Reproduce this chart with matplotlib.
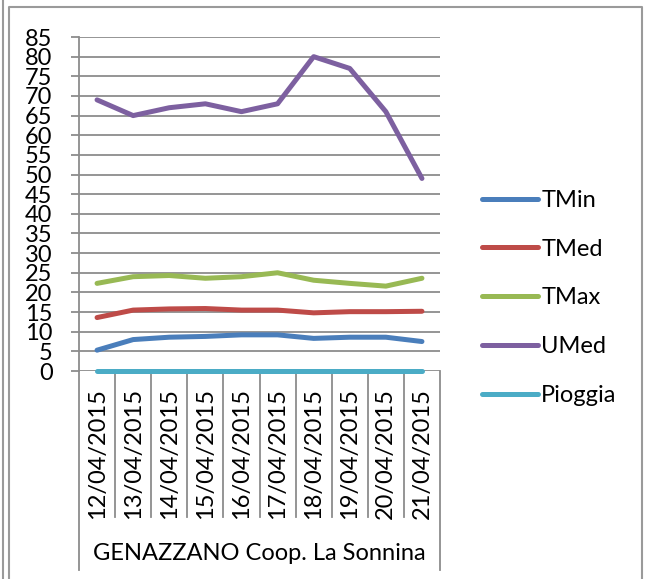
import matplotlib.pyplot as plt
from matplotlib.lines import Line2D
from matplotlib.transforms import blended_transform_factory

days = ['12/04/2015', '13/04/2015', '14/04/2015', '15/04/2015', '16/04/2015',
        '17/04/2015', '18/04/2015', '19/04/2015', '20/04/2015', '21/04/2015']
tmin = [5.3, 8.0, 8.6, 8.8, 9.2, 9.2, 8.3, 8.6, 8.6, 7.5]
tmed = [13.6, 15.5, 15.8, 15.9, 15.5, 15.5, 14.8, 15.1, 15.1, 15.2]
tmax = [22.3, 24.0, 24.3, 23.6, 24.0, 25.0, 23.1, 22.3, 21.6, 23.6]
umed = [69, 65, 67, 68, 66, 68, 80, 77, 66, 49]
pioggia = [0, 0, 0, 0, 0, 0, 0, 0, 0, 0]
group_label = 'GENAZZANO Coop. La Sonnina'

series = [('TMin', tmin, '#4A7EBB'), ('TMed', tmed, '#BE4B48'),
          ('TMax', tmax, '#98B954'), ('UMed', umed, '#7D60A0'),
          ('Pioggia', pioggia, '#4BACC6')]

plt.rcParams['font.family'] = ['Lato', 'DejaVu Sans']
W, H = 646, 579
fig = plt.figure(figsize=(W / 100, H / 100), dpi=100)
ax = fig.add_axes([79 / W, 1 - 371 / H, 361 / W, 334 / H])

grid_c = '#8c8c8c'
x = list(range(len(days)))
for name, vals, c in series:
    ax.plot(x, vals, color=c, lw=3.6, solid_capstyle='round', label=name,
            zorder=3, clip_on=False)

ax.set_xlim(-0.5, len(days) - 0.5)
ax.set_ylim(0, 85)
ax.set_yticks(range(0, 86, 5))
ax.yaxis.grid(True, color=grid_c, lw=1.3)
ax.set_axisbelow(True)
ax.tick_params(axis='y', length=6, width=1.3, color=grid_c, labelsize=17, pad=13)
ax.set_xticks([])
for s in ['top', 'right', 'bottom']:
    ax.spines[s].set_visible(False)
ax.spines['left'].set_color(grid_c)
ax.spines['left'].set_linewidth(1.3)

# category axis boxes below the plot
bt = blended_transform_factory(ax.transData, fig.transFigure)
for i in range(len(days) + 1):
    xb = i - 0.5
    y_end = 570 if i in (0, len(days)) else 517
    ax.add_line(Line2D([xb, xb], [1 - 371 / H, 1 - y_end / H], transform=bt,
                       color=grid_c, lw=1.3, clip_on=False))
for i, d in enumerate(days):
    ax.text(i, 1 - 388 / H, d, transform=bt, rotation=90, ha='center', va='top',
            fontsize=17)
ax.text(4.5, 1 - 553 / H, group_label, transform=bt, ha='center', va='center',
        fontsize=17)

leg = ax.legend(loc='center left', bbox_to_anchor=(461 / W, 1 - 298 / H),
                bbox_transform=fig.transFigure, frameon=False, fontsize=17,
                handlelength=2.35, handletextpad=0.15, labelspacing=1.18)

# chart border lines
fig.add_artist(Line2D([3 / W, 3 / W], [0, 1], color='#9a9a9a', lw=1.5))
fig.add_artist(Line2D([9 / W, 9 / W, 642 / W, 642 / W], [0, 1 - 7 / H, 1 - 7 / H, 0],
                      color='#9a9a9a', lw=1.5))

fig.savefig('out.png', dpi=100)
